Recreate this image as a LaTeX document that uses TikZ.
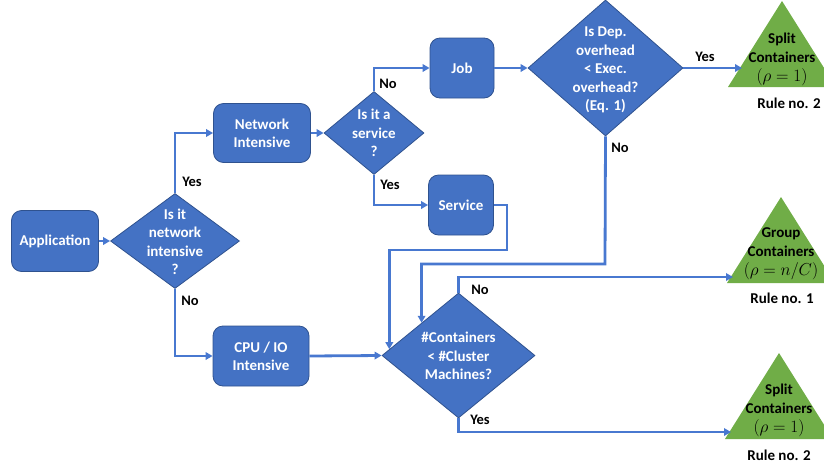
\documentclass[tikz,border=0pt]{standalone}
\usepackage{fontspec}
\setmainfont{Carlito}
\usetikzlibrary{arrows.meta,shapes.geometric,calc}
\definecolor{boxblue}{RGB}{68,114,196}
\definecolor{edgeblue}{RGB}{47,82,143}
\definecolor{lineblue}{RGB}{72,120,208}
\definecolor{trigreen}{RGB}{112,173,71}
\newcommand{\rhomath}[1]{{\fontsize{17.5}{19}\selectfont$#1$}}
\begin{document}
\begin{tikzpicture}[x=1pt,y=-1pt,
  box/.style={draw=edgeblue, line width=0.8pt, fill=boxblue, rounded corners=10pt,
    text=white, font=\bfseries\fontsize{15}{18}\selectfont, align=center, inner sep=0pt},
  dia/.style={diamond, draw=edgeblue, line width=0.8pt, fill=boxblue, inner sep=0pt},
  dtext/.style={text=white, font=\bfseries\fontsize{15}{18.5}\selectfont, align=center, inner sep=0pt},
  ttext/.style={text=black, font=\bfseries\fontsize{15}{19}\selectfont, align=center, inner sep=0pt},
  tri/.style={fill=trigreen},
  conn/.style={draw=lineblue, line width=2.8pt, -{Triangle[length=7pt,width=7.5pt]}},
  lbl/.style={text=black, font=\bfseries\fontsize{14.5}{16}\selectfont, inner sep=0pt},
  rule/.style={text=black, font=\bfseries\fontsize{15}{18}\selectfont, inner sep=0pt},
]
\useasboundingbox (0,0) rectangle (824,466);
% boxes
\node[box, minimum width=87pt, minimum height=61pt] (app) at (55,241) {Application};
\node[box, minimum width=97pt, minimum height=59pt] (net) at (262,133) {Network\\Intensive};
\node[box, minimum width=96pt, minimum height=60pt] (cpu) at (261,356) {CPU / IO\\Intensive};
\node[box, minimum width=64pt, minimum height=60pt] (job) at (462,68) {Job};
\node[box, minimum width=65pt, minimum height=60pt] (svc) at (461,205) {Service};
% diamonds
\node[dia, minimum width=129pt, minimum height=95pt] (d1) at (175,241) {};
\node[dtext] (d1t) at (175,242) {Is it\\network\\intensive\\?};
\node[dia, minimum width=100pt, minimum height=83pt] (d2) at (374,133) {};
\node[dtext] (d2t) at (374,133) {Is it a\\service\\?};
\node[dia, minimum width=155pt, minimum height=136pt] (d3) at (605.5,68) {};
\node[dtext] (d3t) at (605.5,70) {Is Dep.\\overhead\\< Exec.\\overhead?\\(Eq. 1)};
\node[dia, minimum width=153pt, minimum height=125pt] (d4) at (458.5,355.5) {};
\node[dtext] (d4t) at (458.5,356) {\#Containers\\< \#Cluster\\Machines?};
% triangles
\fill[tri] (782,1) -- (836,87) -- (728,87) -- cycle;
\node[ttext] (t1) at (782,59) {Split\\Containers\\\rhomath{(\rho = 1)}};
\node[rule] (r1) at (789,103) {Rule no. 2};
\fill[tri] (781,197) -- (835,283) -- (727,283) -- cycle;
\node[ttext] (t2) at (781,254) {Group\\Containers\\\rhomath{(\rho = n/C)}};
\node[rule] (r2) at (782,298) {Rule no. 1};
\fill[tri] (779,353) -- (833,439) -- (725,439) -- cycle;
\node[ttext] (t3) at (779,410) {Split\\Containers\\\rhomath{(\rho = 1)}};
\node[rule] (r3) at (779,455) {Rule no. 2};
% arrow targets on triangles
\coordinate (t1in) at (742,68);
\coordinate (t2in) at (733,277);
\coordinate (t3in) at (731,432);
% bend points
\coordinate (b1) at (605,264);
\coordinate (b2) at (507,205);
\coordinate (b3) at (507,250);
% connectors
\draw[conn] (app.east) -- (d1.west);
\draw[conn] (d1.north) |- (net.west);
\draw[conn] (d1.south) |- (cpu.west);
\draw[conn] (net.east) -- (d2.west);
\draw[conn] (d2.north) |- (job.west);
\draw[conn] (d2.south) |- (svc.west);
\draw[conn] (job.east) -- (d3.west);
\draw[conn] (d3.east) -- (t1in);
\draw[conn] (d3.south) -- (b1) -| ($(d4.west)!0.52!(d4.north)$);
\draw[conn] (svc.east) -- (b2) -- (b3) -| ($(d4.west)!0.1!(d4.north)$);
\draw[conn] (cpu.east) -- (d4.west);
\draw[conn] (d4.north) |- (t2in);
\draw[conn] (d4.south) |- (t3in);
% labels
\node[lbl] (l1) at (192,182) {Yes};
\node[lbl] (l2) at (190,301) {No};
\node[lbl] (l3) at (388,84) {No};
\node[lbl] (l4) at (390,185) {Yes};
\node[lbl] (l5) at (705,57) {Yes};
\node[lbl] (l6) at (620,148) {No};
\node[lbl] (l7) at (480,290) {No};
\node[lbl] (l8) at (480,420) {Yes};
\end{tikzpicture}
\end{document}
